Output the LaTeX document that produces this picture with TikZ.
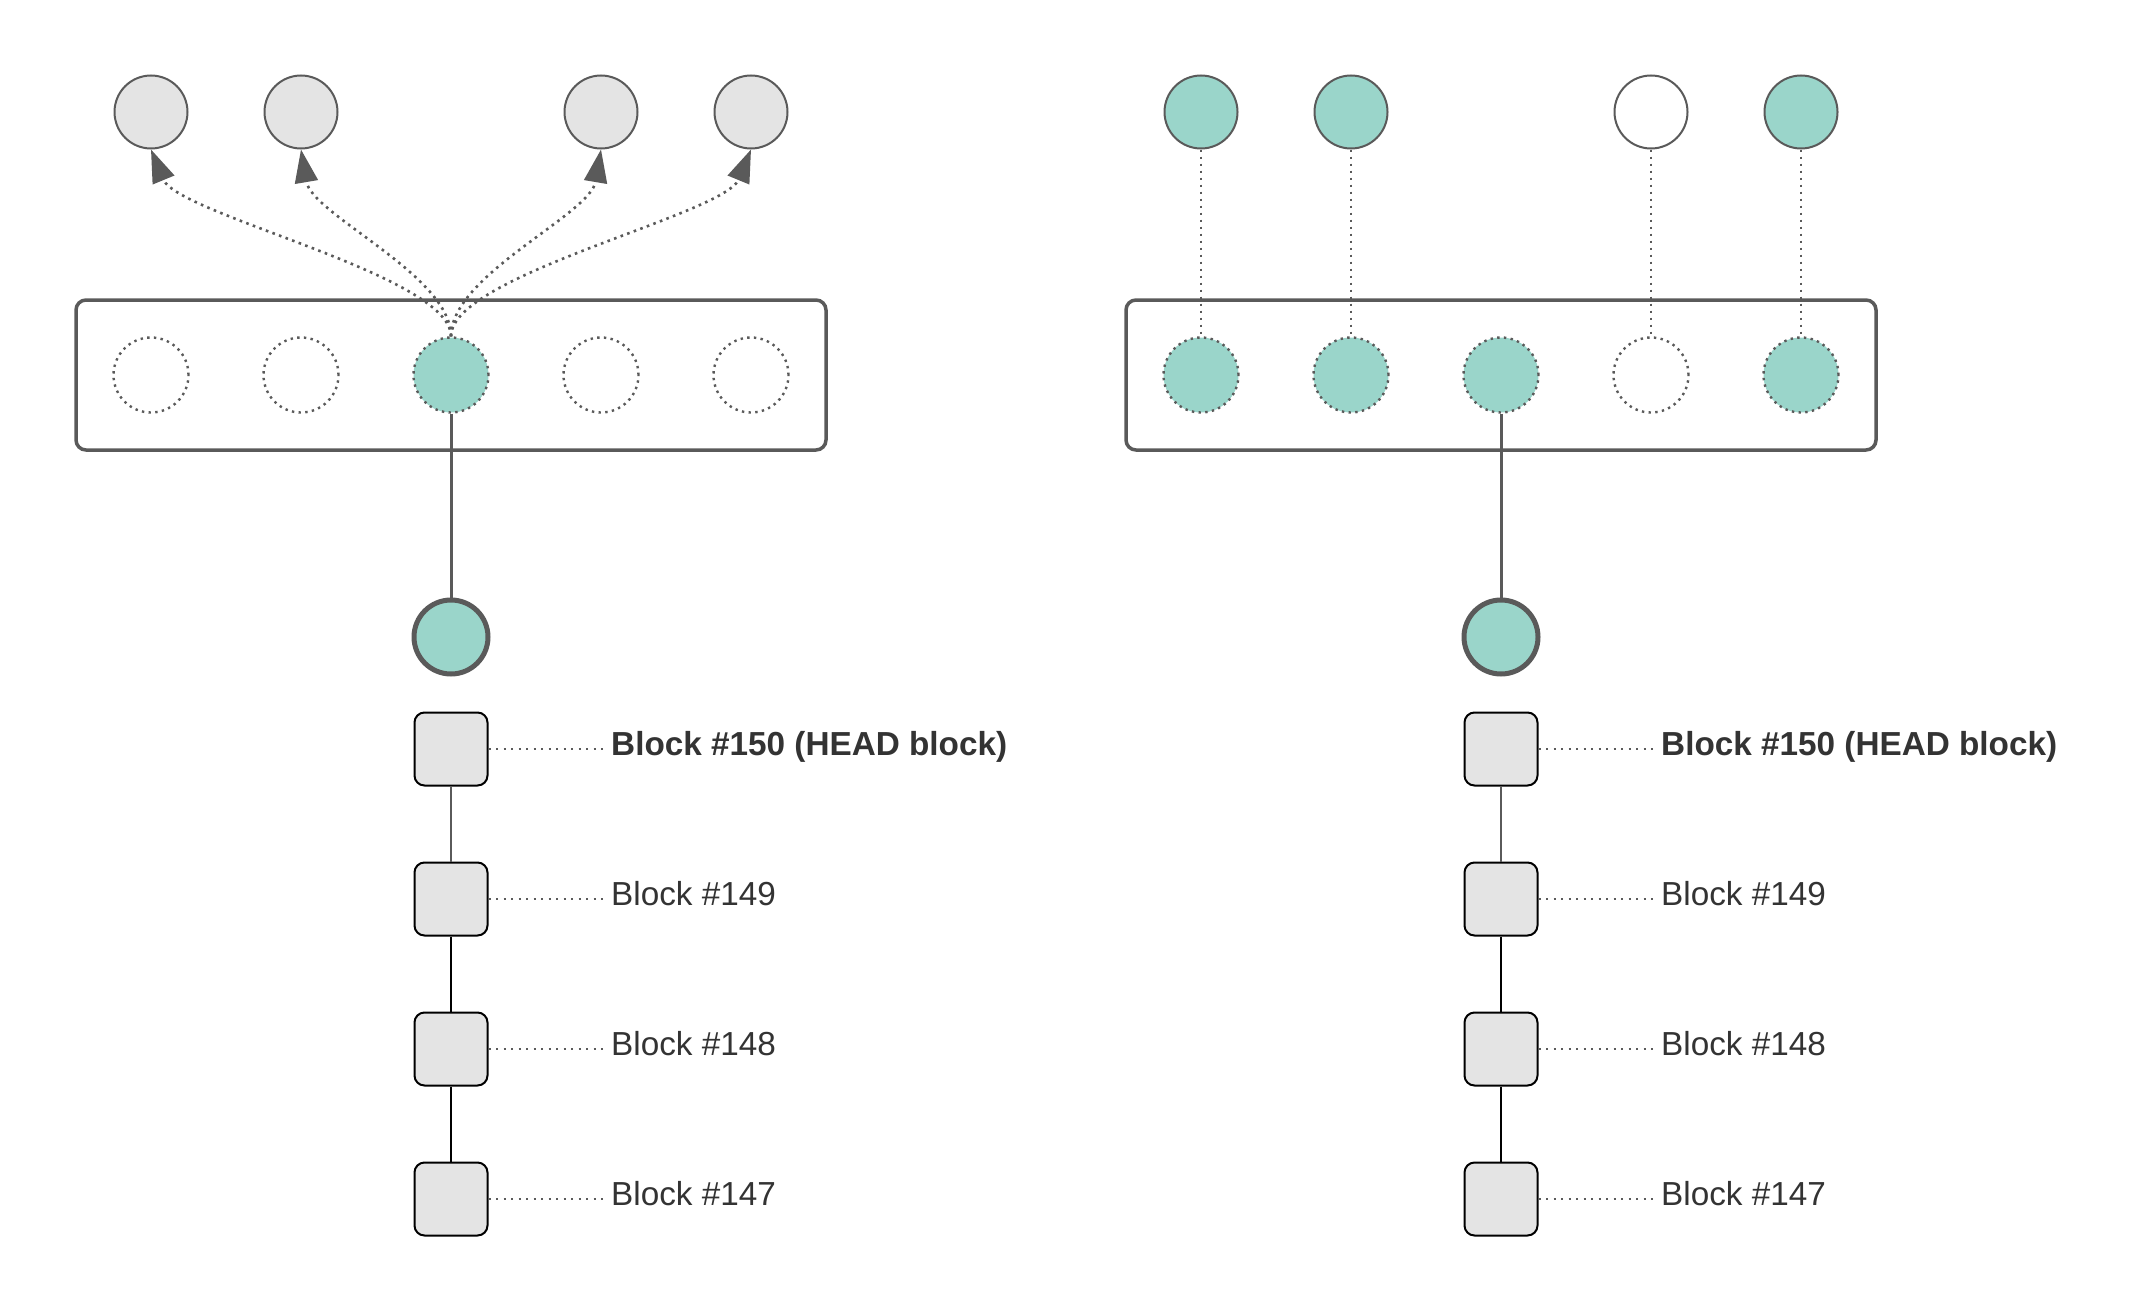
\documentclass[tikz,border=0pt]{standalone}
\usepackage{fontspec}
\setmainfont{Liberation Sans}
\usetikzlibrary{arrows.meta}
\definecolor{edge}{HTML}{5A5A5A}
\definecolor{mint}{HTML}{9AD5CA}
\definecolor{cell}{HTML}{E4E4E4}
\definecolor{ink}{HTML}{333333}
\begin{document}
\begin{tikzpicture}[x=1pt,y=-1pt,
  peer/.style={circle, draw=edge, line width=2pt, minimum size=73pt, inner sep=0pt},
  slot/.style={circle, draw=edge, line width=2.4pt, dash pattern=on 2.4pt off 4.3pt, minimum size=75pt, inner sep=0pt},
  headnode/.style={circle, draw=edge, line width=5pt, fill=mint, minimum size=74pt, inner sep=0pt},
  frame/.style={draw=edge, line width=3.5pt, rounded corners=10pt, minimum width=750pt, minimum height=150pt, inner sep=0pt},
  blk/.style={draw=black, line width=2pt, fill=cell, rounded corners=10pt, minimum size=73pt, inner sep=0pt},
  lbl/.style={anchor=base west, inner sep=0pt, text=ink, font=\fontsize{33.3}{40}\selectfont},
  dots/.style={draw=edge, line width=2.6pt, dash pattern=on 2.6pt off 4.4pt},
  leader/.style={draw=edge, line width=2.3pt, dash pattern=on 2.3pt off 5.2pt, shorten >=7pt},
  fanout/.style={dots, -{Triangle[length=33pt,width=23pt]}},
  stem/.style={draw=edge, line width=3pt},
  weaklink/.style={draw=edge, line width=1.3pt},
  link/.style={draw=black, line width=2pt},
]
\path[use as bounding box] (0,0) rectangle (2141,1314);

% ---------- left panel ----------
\node[frame] (Lbox) at (451,375) {};
\node[peer, fill=cell] (Lt1) at (151,112) {};
\node[peer, fill=cell] (Lt2) at (301,112) {};
\node[peer, fill=cell] (Lt4) at (601,112) {};
\node[peer, fill=cell] (Lt5) at (751,112) {};
\foreach \i/\x in {1/151,2/301,4/601,5/751}
  \node[slot] (Li\i) at (\x,375) {};
\node[slot, fill=mint] (Li3) at (451,375) {};

\draw[fanout] (Li3.north) .. controls (451,275) and (178,215) .. (Lt1.south);
\draw[fanout] (Li3.north) .. controls (451,275) and (312,215) .. (Lt2.south);
\draw[fanout] (Li3.north) .. controls (451,275) and (590,215) .. (Lt4.south);
\draw[fanout] (Li3.north) .. controls (451,275) and (724,215) .. (Lt5.south);

\node[headnode] (Lh) at (451,637) {};
\draw[stem] (Li3.south) -- (Lh.north);

\foreach \i/\y in {1/749,2/899,3/1049,4/1199}
  \node[blk] (Lb\i) at (451,\y) {};
\draw[weaklink] (Lb1) -- (Lb2);
\draw[link] (Lb2) -- (Lb3);
\draw[link] (Lb3) -- (Lb4);

\node[lbl] (Ll1) at (611,755) {\bfseries Block \#150 (HEAD block)};
\node[lbl] (Ll2) at (611,905) {Block \#149};
\node[lbl] (Ll3) at (611,1055) {Block \#148};
\node[lbl] (Ll4) at (611,1205) {Block \#147};
\foreach \i in {1,2,3,4}
  \draw[leader] (Lb\i.east) -- (Lb\i.east -| Ll\i.west);

% ---------- right panel ----------
\node[frame] (Rbox) at (1501,375) {};
\node[peer, fill=mint] (Rt1) at (1201,112) {};
\node[peer, fill=mint] (Rt2) at (1351,112) {};
\node[peer, fill=white] (Rt4) at (1651,112) {};
\node[peer, fill=mint] (Rt5) at (1801,112) {};
\node[slot, fill=mint] (Ri1) at (1201,375) {};
\node[slot, fill=mint] (Ri2) at (1351,375) {};
\node[slot, fill=mint] (Ri3) at (1501,375) {};
\node[slot] (Ri4) at (1651,375) {};
\node[slot, fill=mint] (Ri5) at (1801,375) {};
\foreach \i in {1,2,4,5}
  \draw[dots] (Rt\i.south) -- (Ri\i.north);

\node[headnode] (Rh) at (1501,637) {};
\draw[stem] (Ri3.south) -- (Rh.north);

\foreach \i/\y in {1/749,2/899,3/1049,4/1199}
  \node[blk] (Rb\i) at (1501,\y) {};
\draw[weaklink] (Rb1) -- (Rb2);
\draw[link] (Rb2) -- (Rb3);
\draw[link] (Rb3) -- (Rb4);

\node[lbl] (Rl1) at (1661,755) {\bfseries Block \#150 (HEAD block)};
\node[lbl] (Rl2) at (1661,905) {Block \#149};
\node[lbl] (Rl3) at (1661,1055) {Block \#148};
\node[lbl] (Rl4) at (1661,1205) {Block \#147};
\foreach \i in {1,2,3,4}
  \draw[leader] (Rb\i.east) -- (Rb\i.east -| Rl\i.west);
\end{tikzpicture}
\end{document}
